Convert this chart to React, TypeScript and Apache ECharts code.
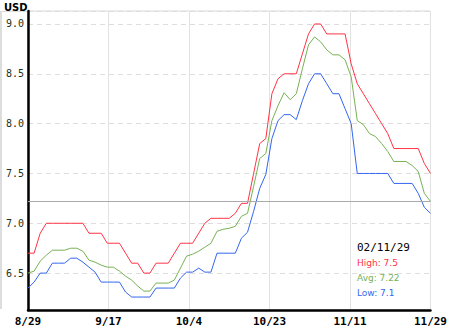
import React, { useEffect, useRef } from "react";
import * as echarts from "echarts";

const dates = [
  "8/29", "8/30",
  "9/2", "9/3", "9/4", "9/5", "9/6", "9/9", "9/10", "9/11", "9/12", "9/13", "9/16", "9/17", "9/18", "9/19", "9/20", "9/23", "9/24", "9/25", "9/26", "9/27", "9/30",
  "10/1", "10/2", "10/3", "10/4", "10/7", "10/8", "10/9", "10/10", "10/11", "10/14", "10/15", "10/16", "10/17", "10/18", "10/21", "10/22", "10/23", "10/24", "10/25", "10/28", "10/29", "10/30", "10/31",
  "11/1", "11/4", "11/5", "11/6", "11/7", "11/8", "11/11", "11/12", "11/13", "11/14", "11/15", "11/18", "11/19", "11/20", "11/21", "11/22", "11/25", "11/26", "11/27", "11/28", "11/29",
];

const tickLabels = ["8/29", "9/17", "10/4", "10/23", "11/11", "11/29"];

const high = [
  6.7, 6.7, 6.9, 7.0, 7.0, 7.0, 7.0, 7.0, 7.0, 7.0,
  6.9, 6.9, 6.9, 6.8, 6.8, 6.8, 6.7, 6.6, 6.6, 6.5,
  6.5, 6.6, 6.6, 6.6, 6.7, 6.8, 6.8, 6.8, 6.9, 7.0,
  7.05, 7.05, 7.05, 7.05, 7.1, 7.2, 7.2, 7.5, 7.8, 7.85,
  8.3, 8.45, 8.5, 8.5, 8.5, 8.7, 8.9, 9.0, 9.0, 8.9,
  8.9, 8.9, 8.9, 8.6, 8.4, 8.3, 8.2, 8.1, 8.0, 7.9,
  7.75, 7.75, 7.75, 7.75, 7.75, 7.6, 7.5,
];

const avg = [
  6.5, 6.52, 6.62, 6.68, 6.73, 6.73, 6.73, 6.75, 6.75, 6.72,
  6.63, 6.61, 6.58, 6.56, 6.56, 6.52, 6.47, 6.43, 6.37, 6.32,
  6.32, 6.4, 6.4, 6.4, 6.43, 6.55, 6.67, 6.69, 6.72, 6.76,
  6.8, 6.92, 6.94, 6.95, 6.97, 7.07, 7.1, 7.37, 7.65, 7.7,
  8.03, 8.18, 8.31, 8.24, 8.3, 8.55, 8.79, 8.87, 8.82, 8.74,
  8.69, 8.69, 8.64, 8.47, 8.03, 7.99, 7.9, 7.87, 7.8, 7.72,
  7.62, 7.62, 7.62, 7.58, 7.52, 7.3, 7.22,
];

const low = [
  6.35, 6.41, 6.5, 6.5, 6.6, 6.6, 6.6, 6.65, 6.65, 6.61,
  6.56, 6.51, 6.41, 6.41, 6.41, 6.41, 6.31, 6.26, 6.26, 6.26,
  6.26, 6.35, 6.35, 6.35, 6.35, 6.45, 6.51, 6.51, 6.55, 6.51,
  6.51, 6.7, 6.7, 6.7, 6.7, 6.85, 6.91, 7.12, 7.35, 7.49,
  7.85, 8.03, 8.09, 8.09, 8.04, 8.23, 8.4, 8.5, 8.5, 8.4,
  8.3, 8.3, 8.15, 8.0, 7.5, 7.5, 7.5, 7.5, 7.5, 7.5,
  7.4, 7.4, 7.4, 7.4, 7.3, 7.16, 7.1,
];

const lastDateLabel = "02/11/29";
const unitLabel = "USD";

const RED = "#ff3344";
const GREEN = "#77b255";
const BLUE = "#3366ee";
const MONO = '"DejaVu Sans Mono", monospace';
const SANS = '"DejaVu Sans", Verdana, sans-serif';

export default function App() {
  const ref = useRef<HTMLDivElement>(null);

  useEffect(() => {
    if (!ref.current) return;
    const chart = echarts.init(ref.current, null, { renderer: "svg" });
    const last = high.length - 1;
    const legendX = 357;

    chart.setOption({
      animation: false,
      backgroundColor: "#ffffff",
      grid: {
        left: 28,
        right: 14,
        top: 11,
        bottom: 20,
        show: true,
        borderColor: "#d8d8d8",
        borderWidth: 1,
        backgroundColor: "transparent",
      },
      xAxis: [
        {
          type: "value",
          min: 0,
          max: tickLabels.length - 1,
          interval: 1,
          position: "bottom",
          axisLine: { show: true, onZero: false, lineStyle: { color: "#000", width: 2.5 } },
          axisTick: { show: false },
          axisLabel: {
            formatter: (v: number) => tickLabels[Math.round(v)] ?? "",
            fontFamily: MONO,
            fontWeight: "bold",
            fontSize: 11,
            color: "#000",
            margin: 6,
          },
          splitLine: { show: true, lineStyle: { color: "#e2e2e2", width: 1 } },
        },
        {
          type: "category",
          data: dates,
          boundaryGap: false,
          show: false,
        },
      ],
      yAxis: {
        type: "value",
        min: 6.13,
        max: 9.13,
        axisLine: { show: true, onZero: false, lineStyle: { color: "#000", width: 2.5 } },
        axisTick: { show: false },
        axisLabel: {
          formatter: (v: number) => v.toFixed(1),
          showMinLabel: false,
          showMaxLabel: false,
          fontFamily: MONO,
          fontSize: 10,
          color: "#223322",
          margin: 4,
        },
        splitLine: { show: true, lineStyle: { color: "#dddddd", type: [5, 4], width: 1 } },
      },
      series: [
        {
          name: "High",
          type: "line",
          xAxisIndex: 1,
          data: high,
          showSymbol: false,
          lineStyle: { color: RED, width: 1 },
          itemStyle: { color: RED },
        },
        {
          name: "Avg",
          type: "line",
          xAxisIndex: 1,
          data: avg,
          showSymbol: false,
          lineStyle: { color: GREEN, width: 1 },
          itemStyle: { color: GREEN },
          markLine: {
            silent: true,
            symbol: "none",
            label: { show: false },
            lineStyle: { color: "#aaaaaa", type: "solid", width: 1 },
            data: [{ yAxis: avg[last] }],
          },
        },
        {
          name: "Low",
          type: "line",
          xAxisIndex: 1,
          data: low,
          showSymbol: false,
          lineStyle: { color: BLUE, width: 1 },
          itemStyle: { color: BLUE },
        },
      ],
      graphic: [
        { type: "rect", shape: { x: 0, y: 11, width: 2, height: 298 }, style: { fill: "#dddddd" }, silent: true },
        { type: "line", shape: { x1: 0, y1: 11.5, x2: 28, y2: 11.5 }, style: { stroke: "#dddddd", lineWidth: 1 }, silent: true },
        {
          type: "text",
          x: 4,
          y: 7,
          style: { text: unitLabel, fill: "#000", font: `bold 10px ${SANS}`, verticalAlign: "middle", textVerticalAlign: "middle" },
        },
        {
          type: "text",
          x: legendX,
          y: 247,
          style: { text: lastDateLabel, fill: "#000", font: `11px ${MONO}`, verticalAlign: "middle", textVerticalAlign: "middle" },
        },
        {
          type: "text",
          x: legendX,
          y: 263,
          style: { text: `High: ${high[last]}`, fill: RED, font: `9px ${SANS}`, verticalAlign: "middle", textVerticalAlign: "middle" },
        },
        {
          type: "text",
          x: legendX,
          y: 278,
          style: { text: `Avg: ${avg[last]}`, fill: GREEN, font: `9px ${SANS}`, verticalAlign: "middle", textVerticalAlign: "middle" },
        },
        {
          type: "text",
          x: legendX,
          y: 293,
          style: { text: `Low: ${low[last]}`, fill: BLUE, font: `9px ${SANS}`, verticalAlign: "middle", textVerticalAlign: "middle" },
        },
      ],
    });

    return () => chart.dispose();
  }, []);

  return (
    <div
      ref={ref}
      style={{ position: "fixed", left: 0, top: 0, width: 450, height: 330, background: "#fff" }}
    />
  );
}
